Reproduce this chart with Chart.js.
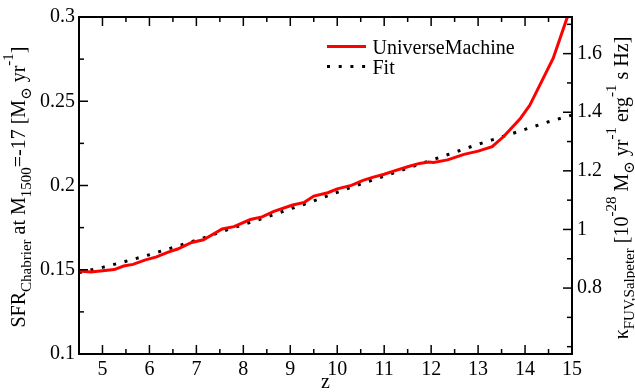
<!DOCTYPE html>
<html>
<head>
<meta charset="utf-8">
<script src="https://cdn.jsdelivr.net/npm/chart.js@4/dist/chart.umd.min.js"></script>
<style>
  html, body { margin: 0; padding: 0; background: #fff; }
  #wrap { width: 635px; height: 392px; }
</style>
</head>
<body>
<div id="wrap"><canvas id="c" width="635" height="392"></canvas></div>
<script>
// UniverseMachine star formation rate at M1500 = -17 versus redshift
const redshift = [4.5, 4.75, 5.0, 5.25, 5.45, 5.65, 5.9, 6.15, 6.4, 6.6, 6.9, 7.15, 7.55, 7.8, 8.15,
  8.4, 8.65, 9.05, 9.3, 9.5, 9.8, 10.0, 10.3, 10.55, 10.75, 11.0, 11.2, 11.5, 11.75, 11.95,
  12.05, 12.35, 12.7, 13.0, 13.3, 13.55, 13.9, 14.1, 14.6, 14.9, 15.0];
const sfrUniverseMachine = [0.1492, 0.1487, 0.1494, 0.1501, 0.1522, 0.1532, 0.1557, 0.1576, 0.1605, 0.1623,
  0.1662, 0.1678, 0.1742, 0.1756, 0.1798, 0.1814, 0.1847, 0.1884, 0.1900, 0.1937,
  0.1957, 0.1980, 0.2001, 0.2030, 0.2048, 0.2067, 0.2085, 0.2111, 0.2131, 0.2139,
  0.2137, 0.2152, 0.2185, 0.2204, 0.2230, 0.2292, 0.2398, 0.2476, 0.2756, 0.2999, 0.308];

// Fitting function evaluated on a regular redshift grid
const fitRedshift = [4.5, 5.0, 5.5, 6.0, 6.5, 7.0, 7.5, 8.0, 8.5, 9.0, 9.5, 10.0, 10.5, 11.0,
  11.5, 12.0, 12.5, 13.0, 13.5, 14.0, 14.5, 15.0];
const sfrFit = [0.1483, 0.1514, 0.1550, 0.1589, 0.1632, 0.1675, 0.1722, 0.1768, 0.1813, 0.1861, 0.1908,
  0.1960, 0.2009, 0.2056, 0.2103, 0.2150, 0.2197, 0.2245, 0.2288, 0.2333, 0.2378, 0.2418];

// Axis ticks
const zTicks = [5, 6, 7, 8, 9, 10, 11, 12, 13, 14, 15];
const zMinorTicks = [4.5, 5.5, 6.5, 7.5, 8.5, 9.5, 10.5, 11.5, 12.5, 13.5, 14.5];
const sfrTicks = [0.1, 0.15, 0.2, 0.25, 0.3];
const sfrMinorTicks = [0.125, 0.175, 0.225, 0.275];
const kappaTicks = [0.8, 1, 1.2, 1.4, 1.6];
const kappaMinorTicks = [0.6, 0.7, 0.9, 1.1, 1.3, 1.5, 1.7];

const SERIF = '"Liberation Serif", "Times New Roman", "DejaVu Serif", serif';
const RED = '#ff0000';
const FIT_DASH = [3, 8.7];

// Draws a label made of normal / subscript / superscript pieces, centred on (cx, baseline)
function richLabel(ctx, parts, cx, cy, angle, size) {
  const small = Math.round(size * 0.75);
  const fontOf = p => (p.s === 'n' ? size : small) + 'px ' + SERIF;
  const shiftOf = p => (p.s === 'sub' ? size * 0.3 : p.s === 'sup' ? -size * 0.6 : 0);
  ctx.save();
  ctx.translate(cx, cy);
  ctx.rotate(angle);
  ctx.textBaseline = 'alphabetic';
  ctx.textAlign = 'left';
  let total = 0;
  parts.forEach(p => { ctx.font = fontOf(p); total += ctx.measureText(p.t).width; });
  let x = -total / 2;
  parts.forEach(p => {
    ctx.font = fontOf(p);
    ctx.fillText(p.t, x, shiftOf(p));
    x += ctx.measureText(p.t).width;
  });
  ctx.restore();
}

const leftTitle = [
  {t: 'SFR', s: 'n'}, {t: 'Chabrier', s: 'sub'}, {t: ' at M', s: 'n'}, {t: '1500', s: 'sub'},
  {t: '=-17 [M', s: 'n'}, {t: '\u2299', s: 'sub'}, {t: ' yr', s: 'n'}, {t: '-1', s: 'sup'}, {t: ']', s: 'n'}
];
const rightTitle = [
  {t: '\u03BA', s: 'n'}, {t: 'FUV,Salpeter', s: 'sub'}, {t: ' [10', s: 'n'}, {t: '-28', s: 'sup'},
  {t: ' M', s: 'n'}, {t: '\u2299', s: 'sub'}, {t: ' yr', s: 'n'}, {t: '-1', s: 'sup'},
  {t: ' erg', s: 'n'}, {t: '-1', s: 'sup'}, {t: ' s Hz]', s: 'n'}
];

const decorations = {
  id: 'decorations',
  afterDraw(chart) {
    const {ctx, chartArea: a, scales} = chart;
    ctx.save();
    // frame
    ctx.strokeStyle = '#000';
    ctx.lineWidth = 2;
    ctx.strokeRect(a.left, a.top, a.right - a.left, a.bottom - a.top);

    // inward tick marks
    ctx.lineWidth = 1.5;
    const seg = (x1, y1, x2, y2) => { ctx.beginPath(); ctx.moveTo(x1, y1); ctx.lineTo(x2, y2); ctx.stroke(); };
    const MAJ = 9, MIN = 5;
    zTicks.forEach(v => { const p = scales.x.getPixelForValue(v); seg(p, a.bottom, p, a.bottom - MAJ); seg(p, a.top, p, a.top + MAJ); });
    zMinorTicks.forEach(v => { const p = scales.x.getPixelForValue(v); seg(p, a.bottom, p, a.bottom - MIN); seg(p, a.top, p, a.top + MIN); });
    sfrTicks.forEach(v => { const p = scales.y.getPixelForValue(v); seg(a.left, p, a.left + MAJ, p); });
    sfrMinorTicks.forEach(v => { const p = scales.y.getPixelForValue(v); seg(a.left, p, a.left + MIN, p); });
    kappaTicks.forEach(v => { const p = scales.y2.getPixelForValue(v); seg(a.right, p, a.right - MAJ, p); });
    kappaMinorTicks.forEach(v => { const p = scales.y2.getPixelForValue(v); seg(a.right, p, a.right - MIN, p); });

    // axis titles
    ctx.fillStyle = '#000';
    richLabel(ctx, leftTitle, 25, 187, -Math.PI / 2, 20);
    richLabel(ctx, rightTitle, 628, 188, -Math.PI / 2, 20);
    ctx.font = '20px ' + SERIF;
    ctx.textAlign = 'center';
    ctx.textBaseline = 'alphabetic';
    ctx.fillText('z', (a.left + a.right) / 2, 388);

    // legend
    const ds = chart.data.datasets;
    ctx.textAlign = 'left';
    ctx.font = '20px ' + SERIF;
    ctx.lineCap = 'butt';
    ctx.strokeStyle = ds[0].borderColor;
    ctx.lineWidth = ds[0].borderWidth;
    seg(327, 46.5, 366, 46.5);
    ctx.fillText(ds[0].label, 372.5, 53.5);
    ctx.strokeStyle = ds[1].borderColor;
    ctx.lineWidth = ds[1].borderWidth;
    ctx.setLineDash(ds[1].borderDash);
    seg(327, 66.5, 366, 66.5);
    ctx.setLineDash([]);
    ctx.fillText(ds[1].label, 372.5, 73.5);
    ctx.restore();
  }
};

const tickFont = {family: SERIF, size: 20};
const plainNumber = v => String(v);

new Chart(document.getElementById('c'), {
  type: 'line',
  data: {
    datasets: [
      {
        label: 'UniverseMachine',
        data: redshift.map((z, i) => ({x: z, y: sfrUniverseMachine[i]})),
        borderColor: RED,
        borderWidth: 3,
        pointRadius: 0,
        tension: 0,
        fill: false,
        clip: 0,
        yAxisID: 'y'
      },
      {
        label: 'Fit',
        data: fitRedshift.map((z, i) => ({x: z, y: sfrFit[i]})),
        borderColor: '#000',
        borderWidth: 3,
        borderDash: FIT_DASH,
        borderCapStyle: 'butt',
        pointRadius: 0,
        tension: 0,
        fill: false,
        clip: 0,
        yAxisID: 'y'
      }
    ]
  },
  options: {
    responsive: false,
    devicePixelRatio: 1,
    animation: false,
    layout: {padding: {top: 10, left: 0, right: 0, bottom: 0}},
    plugins: {legend: {display: false}, tooltip: {enabled: false}},
    scales: {
      x: {
        type: 'linear',
        min: 4.5, max: 15,
        grid: {display: false, drawTicks: false},
        border: {display: false},
        afterBuildTicks: s => { s.ticks = zTicks.map(v => ({value: v})); },
        afterFit: s => { s.height = 38; },
        ticks: {font: tickFont, color: '#000', padding: 4, maxRotation: 0, autoSkip: false, callback: plainNumber}
      },
      y: {
        type: 'linear',
        position: 'left',
        min: 0.1, max: 0.3,
        grid: {display: false, drawTicks: false},
        border: {display: false},
        afterBuildTicks: s => { s.ticks = sfrTicks.map(v => ({value: v})); },
        afterFit: s => { s.width = 79; },
        ticks: {font: tickFont, color: '#000', padding: 4, autoSkip: false, callback: plainNumber}
      },
      y2: {
        type: 'linear',
        position: 'right',
        min: 0.575, max: 1.725,
        grid: {display: false, drawTicks: false},
        border: {display: false},
        afterBuildTicks: s => { s.ticks = kappaTicks.map(v => ({value: v})); },
        afterFit: s => { s.width = 63; },
        ticks: {font: tickFont, color: '#000', padding: 5, autoSkip: false, callback: plainNumber}
      }
    }
  },
  plugins: [decorations]
});
</script>
</body>
</html>
